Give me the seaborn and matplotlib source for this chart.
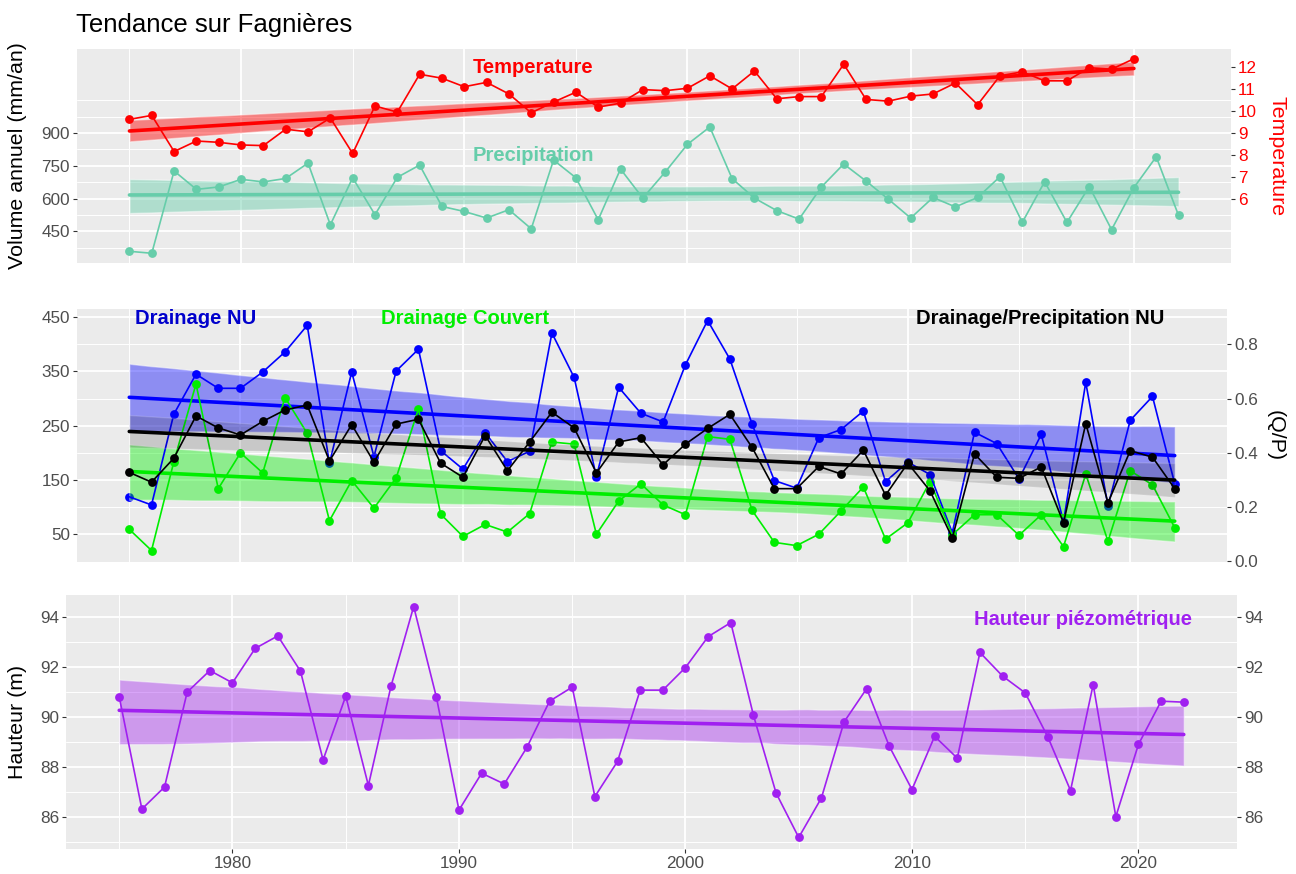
import numpy as np
import matplotlib
matplotlib.use('Agg')
import matplotlib.pyplot as plt
from matplotlib.ticker import FixedLocator
import seaborn as sns

# ---- données ----
years = np.arange(1975, 2023)
years_temp = np.arange(1975, 2021)

precipitation = [359, 350, 726, 642, 653, 688, 676, 692, 762, 480, 695, 526,
                 697, 753, 564, 541, 511, 549, 462, 776, 695, 503, 735, 602,
                 721, 848, 927, 691, 602, 545, 506, 653, 758, 680, 597, 511,
                 605, 562, 605, 700, 491, 677, 491, 655, 458, 650, 791, 523]

temperature = [9.62, 9.80, 8.15, 8.63, 8.57, 8.45, 8.42, 9.17, 9.05, 9.68, 8.06, 10.23,
               9.95, 11.68, 11.50, 11.11, 11.31, 10.78, 9.92, 10.41, 10.86, 10.18, 10.36, 10.98,
               10.93, 11.04, 11.61, 11.01, 11.83, 10.56, 10.66, 10.66, 12.14, 10.53, 10.45, 10.68,
               10.78, 11.28, 10.29, 11.61, 11.79, 11.38, 11.38, 11.98, 11.91, 12.39]

drainage_nu = [119, 104, 271, 345, 319, 319, 349, 386, 435, 181, 349, 193,
               351, 391, 204, 170, 237, 184, 203, 421, 339, 156, 321, 273,
               257, 362, 444, 373, 253, 149, 135, 228, 243, 277, 147, 183,
               160, 53, 238, 217, 152, 234, 73, 330, 102, 260, 304, 143]

drainage_couvert = [59, 20, 183, 327, 134, 200, 163, 302, 236, 75, 149, 98,
                    154, 281, 87, 46, 68, 54, 88, 220, 216, 50, 111, 143,
                    104, 86, 230, 225, 94, 35, 29, 50, 93, 137, 41, 71,
                    147, 49, 86, 86, 48, 86, 27, 161, 37, 167, 141, 62]

ratio_nu = [0.328, 0.292, 0.380, 0.536, 0.492, 0.466, 0.516, 0.558, 0.576, 0.370, 0.504, 0.366,
            0.506, 0.524, 0.362, 0.310, 0.464, 0.334, 0.440, 0.550, 0.492, 0.326, 0.440, 0.456,
            0.356, 0.432, 0.490, 0.542, 0.420, 0.268, 0.268, 0.350, 0.322, 0.410, 0.244, 0.362,
            0.260, 0.086, 0.396, 0.310, 0.306, 0.348, 0.142, 0.508, 0.216, 0.408, 0.384, 0.268]

hauteur = [90.80, 86.33, 87.21, 90.99, 91.85, 91.36, 92.73, 93.23, 91.83, 88.29, 90.83, 87.27,
           91.23, 94.40, 90.80, 86.29, 87.76, 87.33, 88.79, 90.63, 91.19, 86.83, 88.23, 91.07,
           91.07, 91.97, 93.20, 93.76, 90.07, 86.97, 85.20, 86.77, 89.80, 91.13, 88.83, 87.11,
           89.23, 88.36, 92.57, 91.63, 90.96, 89.20, 87.07, 91.29, 86.03, 88.91, 90.63, 90.59]

AQUA = '#66CDAA'
RED = '#FF0000'
BLUE = '#0000FF'
GREEN = '#00EE00'
PURPLE = '#A020F0'

sns.set_theme(style='darkgrid')
plt.rcParams['font.family'] = ['Liberation Sans', 'DejaVu Sans']
plt.rcParams['text.color'] = 'black'

W, H = 1296, 874
fig = plt.figure(figsize=(W / 100, H / 100), dpi=100)


def panel(l, t, r, b):
    return fig.add_axes([l / W, 1 - b / H, (r - l) / W, (b - t) / H])


def style(ax):
    ax.set_facecolor('#EBEBEB')
    ax.set_xlim(1972.65, 2024.35)
    ax.set_xticks([1980, 1990, 2000, 2010, 2020])
    ax.xaxis.set_minor_locator(FixedLocator([1975, 1985, 1995, 2005, 2015]))
    ax.grid(which='major', color='white', lw=1.3)
    ax.grid(which='minor', color='white', lw=0.7)
    ax.tick_params(which='minor', length=0)
    ax.tick_params(which='major', length=3, width=0.8, color='#333333',
                   labelcolor='#4D4D4D', labelsize=12.3, left=True, bottom=True, pad=2)
    for s in ax.spines.values():
        s.set_visible(False)
    ax.set_axisbelow(True)


def expand(vals):
    lo, hi = np.min(vals), np.max(vals)
    d = (hi - lo) * 0.05
    return lo - d, hi + d


def serie(ax, x, y, c, band_alpha=0.45):
    sns.regplot(x=x, y=y, scatter=False, ci=95, color=c, ax=ax, seed=3,
                line_kws={'lw': 2.6})
    ax.collections[-1].set_alpha(band_alpha)
    sns.lineplot(x=x, y=y, color=c, lw=1.2, ax=ax)
    sns.scatterplot(x=x, y=y, color=c, s=40, linewidth=0, ax=ax)


def twin(ax):
    t = ax.twinx()
    t.grid(False)
    for s in t.spines.values():
        s.set_visible(False)
    t.tick_params(length=3, width=0.8, color='#333333', labelsize=12.3,
                  right=True, labelright=True, pad=2)
    return t


# ---- panneau 1 : précipitations / température ----
ax1 = panel(77, 49, 1231, 263)
style(ax1)
serie(ax1, years, precipitation, AQUA, 0.45)
ax1t = twin(ax1)
serie(ax1t, years_temp, temperature, RED, 0.45)
lo, hi = expand(np.r_[precipitation, np.array(temperature) * 100])
ax1.set_ylim(lo, hi)
ax1t.set_ylim(lo / 100, hi / 100)
ax1.set_yticks([450, 600, 750, 900])
ax1.yaxis.set_minor_locator(FixedLocator([375, 525, 675, 825, 975, 1050]))
ax1t.set_yticks(range(6, 13))
ax1t.tick_params(labelcolor=RED)
ax1.tick_params(axis='x', labelbottom=False, bottom=False)
ax1t.tick_params(axis='x', labelbottom=False, bottom=False)
ax1.set_xlim(1972.65, 2024.35)
ax1.set_xlabel('')
ax1.set_ylabel('')
ax1t.set_ylabel('')
ax1.text(1993.1, 1200, 'Temperature', color=RED, ha='center', va='center',
         fontsize=14.5, fontweight='bold')
ax1.text(1993.1, 795, 'Precipitation', color=AQUA, ha='center', va='center',
         fontsize=14.5, fontweight='bold')

# ---- panneau 2 : drainage ----
ax2 = panel(77, 309, 1227, 562)
style(ax2)
serie(ax2, years, drainage_nu, BLUE, 0.4)
serie(ax2, years, drainage_couvert, GREEN, 0.4)
ax2t = twin(ax2)
serie(ax2t, years, ratio_nu, 'black', 0.15)
lo, hi = expand(np.r_[drainage_nu, drainage_couvert, np.array(ratio_nu) * 500])
ax2.set_ylim(lo, hi)
ax2t.set_ylim(lo / 500, hi / 500)
ax2.set_yticks([50, 150, 250, 350, 450])
ax2.yaxis.set_minor_locator(FixedLocator([100, 200, 300, 400]))
ax2t.set_yticks([0.0, 0.2, 0.4, 0.6, 0.8])
ax2t.set_yticklabels(['0.0', '0.2', '0.4', '0.6', '0.8'])
ax2t.tick_params(labelcolor='#4D4D4D')
ax2.tick_params(axis='x', labelbottom=False, bottom=False)
ax2t.tick_params(axis='x', labelbottom=False, bottom=False)
ax2.set_xlim(1972.65, 2024.35)
ax2.set_xlabel('')
ax2.set_ylabel('')
ax2t.set_ylabel('')
ax2.text(1978.0, 447, 'Drainage NU', color='#0000CC', ha='center', va='center',
         fontsize=14.5, fontweight='bold')
ax2.text(1990.1, 447, 'Drainage Couvert', color=GREEN, ha='center', va='center',
         fontsize=14.5, fontweight='bold')
ax2.text(2015.95, 447, 'Drainage/Precipitation NU', color='black', ha='center', va='center',
         fontsize=14.5, fontweight='bold')

# ---- panneau 3 : hauteur piézométrique ----
ax3 = panel(66, 595, 1237, 849)
style(ax3)
serie(ax3, years, hauteur, PURPLE, 0.4)
ax3.set_ylim(*expand(hauteur))
ax3.set_yticks([86, 88, 90, 92, 94])
ax3.yaxis.set_minor_locator(FixedLocator([85, 87, 89, 91, 93]))
ax3.tick_params(right=True, labelright=True)
ax3.set_xlim(1972.65, 2024.35)
ax3.set_xlabel('')
ax3.set_ylabel('')
ax3.text(2017.55, 93.9, 'Hauteur piézométrique', color=PURPLE, ha='center', va='center',
         fontsize=14.5, fontweight='bold')

# ---- titres ----
fig.text(76 / W, 1 - 32 / H, 'Tendance sur Fagnières', fontsize=18.5, va='baseline',
         color='black')
fig.text(18 / W, 1 - 156 / H, 'Volume annuel (mm/an)', rotation=90, ha='center',
         va='center', fontsize=15.4, color='black')
fig.text(18 / W, 1 - 722 / H, 'Hauteur (m)', rotation=90, ha='center',
         va='center', fontsize=15.4, color='black')
fig.text(1277 / W, 1 - 156 / H, 'Temperature', rotation=270, ha='center',
         va='center', fontsize=15.4, color=RED)
fig.text(1275 / W, 1 - 436 / H, '(Q/P)', rotation=270, ha='center',
         va='center', fontsize=15.4, color='black')

fig.savefig('out.png', dpi=100, facecolor='white')
